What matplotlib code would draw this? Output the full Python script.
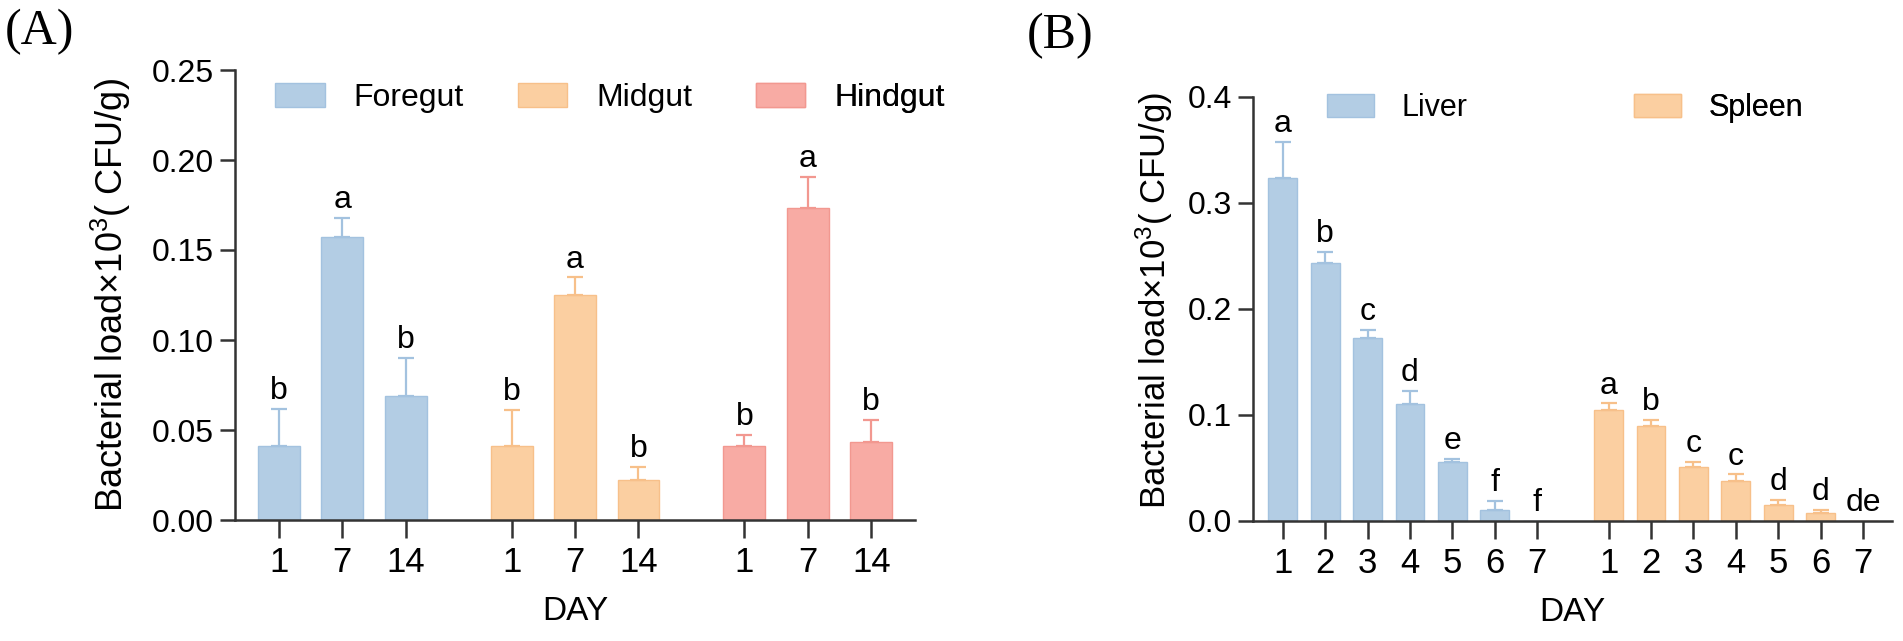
import numpy as np
import matplotlib
matplotlib.use("Agg")
import matplotlib.pyplot as plt
from matplotlib.patches import Patch

plt.rcParams['font.family'] = ['Liberation Sans', 'DejaVu Sans']
plt.rcParams['mathtext.fontset'] = 'custom'
plt.rcParams['mathtext.rm'] = 'Liberation Sans'
plt.rcParams['mathtext.it'] = 'Liberation Sans'

# ---- data (A) gut segments, days 1/7/14
days_a = ['1', '7', '14']
gut_names = ['Foregut', 'Midgut', 'Hindgut']
foregut = [0.0409, 0.1572, 0.0687]
foregut_err = [0.0208, 0.0105, 0.0214]
midgut = [0.0410, 0.1251, 0.0224]
midgut_err = [0.0200, 0.0097, 0.0070]
hindgut = [0.0409, 0.1734, 0.0434]
hindgut_err = [0.0062, 0.0173, 0.0124]
letters_fore = ['b', 'a', 'b']
letters_mid = ['b', 'a', 'b']
letters_hind = ['b', 'a', 'b']

# ---- data (B) liver / spleen, days 1-7
days_b = ['1', '2', '3', '4', '5', '6', '7']
organ_names = ['Liver', 'Spleen']
liver = [0.324, 0.243, 0.173, 0.110, 0.0558, 0.0104, 0.0]
liver_err = [0.034, 0.011, 0.007, 0.013, 0.0027, 0.0086, 0.0]
spleen = [0.1045, 0.0900, 0.0505, 0.0377, 0.0152, 0.0078, 0.0]
spleen_err = [0.0065, 0.0052, 0.0055, 0.0063, 0.0047, 0.0025, 0.0]
letters_liver = ['a', 'b', 'c', 'd', 'e', 'f', 'f']
letters_spleen = ['a', 'b', 'c', 'c', 'd', 'd', 'de']

blue, blue_e = '#B3CDE4', '#A3C2DF'
orange, orange_e = '#FBCFA1', '#F7C08A'
pink, pink_e = '#F8ABA4', '#F29890'
axcol = '#333333'

W, H = 1903, 641
fig = plt.figure(figsize=(W / 100, H / 100), dpi=100)


def px_axes(l, r, top, bottom):
    return fig.add_axes([l / W, 1 - bottom / H, (r - l) / W, (bottom - top) / H])


def style(ax, ylab_x, ylab_y, ylab_fs):
    for s in ['top', 'right']:
        ax.spines[s].set_visible(False)
    for s in ['left', 'bottom']:
        ax.spines[s].set_linewidth(1.8)
        ax.spines[s].set_color(axcol)
    ax.tick_params(axis='y', length=11, width=1.8, color=axcol, labelsize=23, pad=4)
    ax.tick_params(axis='x', length=13, width=1.8, color=axcol, labelsize=25, pad=6)
    ax.set_ylabel('Bacterial load×10$^{3}$( CFU/g)', fontsize=ylab_fs, va='center')
    ax.yaxis.set_label_coords(ylab_x, ylab_y)
    ax.set_xlabel('DAY', fontsize=24, labelpad=12)


def draw(ax, x, vals, errs, letters, fc, ec, width, fs):
    x = np.asarray(x, dtype=float)
    vals = np.asarray(vals)
    errs = np.asarray(errs)
    ax.bar(x, vals, width=width, color=fc, edgecolor=ec, linewidth=1.0, zorder=2)
    m = errs > 0
    ax.errorbar(x[m], vals[m], yerr=[np.zeros(m.sum()), errs[m]], fmt='none', ecolor=ec,
                elinewidth=1.6, capsize=6, capthick=1.6, zorder=3)
    for xi, v, e, t in zip(x, vals, errs, letters):
        ax.annotate(t, (xi, v + e), xytext=(0, 2), textcoords='offset points',
                    ha='center', va='bottom', fontsize=fs)


def legend_item(ax, label, fc, ec, x, y, fs):
    lg = ax.legend(handles=[Patch(facecolor=fc, edgecolor=ec, linewidth=1.0)], labels=[label],
                   loc='center left', bbox_to_anchor=(x, y), frameon=False, fontsize=fs,
                   borderpad=0, borderaxespad=0, handlelength=1.55, handleheight=0.78,
                   handletextpad=0.9)
    ax.add_artist(lg)


# ---------------- panel A
axA = px_axes(235, 915, 70, 520)
gap = 1.67
# three groups of three days, groups separated by an empty gap
xa = [np.arange(3) + g * (2 + gap) for g in range(3)]
draw(axA, xa[0], foregut, foregut_err, letters_fore, blue, blue_e, 0.66, 23)
draw(axA, xa[1], midgut, midgut_err, letters_mid, orange, orange_e, 0.66, 23)
draw(axA, xa[2], hindgut, hindgut_err, letters_hind, pink, pink_e, 0.66, 23)
axA.set_xlim(-0.69, 10.03)
axA.set_ylim(0, 0.25)
axA.set_yticks(np.arange(0, 0.251, 0.05))
axA.set_yticklabels([f'{v:.2f}' for v in np.arange(0, 0.251, 0.05)])
axA.set_xticks(np.concatenate(xa))
axA.set_xticklabels(days_a * 3)
style(axA, -0.182, 0.5, 26)
legend_item(axA, gut_names[0], blue, blue_e, 0.059, 0.938, 23)
legend_item(axA, gut_names[1], orange, orange_e, 0.416, 0.938, 23)
legend_item(axA, gut_names[2], pink, pink_e, 0.766, 0.938, 23)

# ---------------- panel B
axB = px_axes(1253, 1892, 97, 521)
xb = [np.arange(7), np.arange(7) + 7.68]
draw(axB, xb[0], liver, liver_err, letters_liver, blue, blue_e, 0.68, 23)
draw(axB, xb[1], spleen, spleen_err, letters_spleen, orange, orange_e, 0.68, 23)
axB.set_xlim(-0.70, 14.36)
axB.set_ylim(0, 0.4)
axB.set_yticks(np.arange(0, 0.41, 0.1))
axB.set_yticklabels([f'{v:.1f}' for v in np.arange(0, 0.41, 0.1)])
axB.set_xticks(np.concatenate(xb))
axB.set_xticklabels(days_b * 2)
style(axB, -0.155, 0.52, 25)
legend_item(axB, organ_names[0], blue, blue_e, 0.116, 0.974, 22)
legend_item(axB, organ_names[1], orange, orange_e, 0.596, 0.974, 22)

# panel tags
fig.text(5 / W, 1 - 32 / H, '(A)', fontsize=36, family='Liberation Serif', ha='left', va='center')
fig.text(1027 / W, 1 - 36 / H, '(B)', fontsize=36, family='Liberation Serif', ha='left', va='center')

fig.savefig('out.png', dpi=100)
